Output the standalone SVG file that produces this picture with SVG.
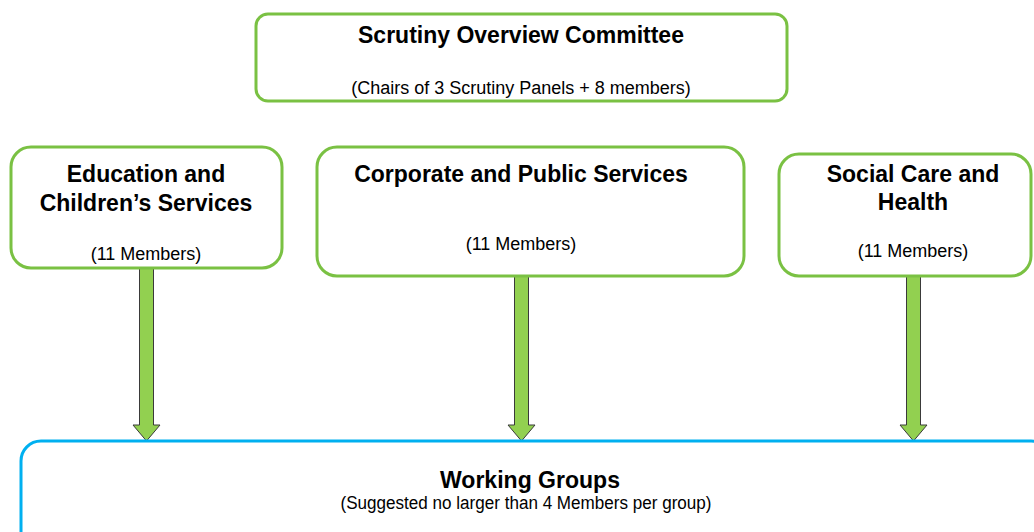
<svg xmlns="http://www.w3.org/2000/svg" width="1034" height="532" viewBox="0 0 1034 532">
  <defs>
    <style>
      .box { fill: #ffffff; stroke: #7ac143; stroke-width: 3; }
      .wg { fill: #ffffff; stroke: #00b0f0; stroke-width: 3; }
      .title { font-family: "Liberation Sans", Arial, sans-serif; font-weight: bold; font-size: 23px; fill: #000000; text-anchor: middle; }
      .sub { font-family: "Liberation Sans", Arial, sans-serif; font-size: 18px; fill: #000000; text-anchor: middle; }
      .arrow { fill: #92d050; stroke: #3a3a3a; stroke-width: 1; }
    </style>
  </defs>
  <rect width="1034" height="532" fill="#ffffff"/>

  <g id="connectors">
    <path class="arrow" d="M139.5,268 H153.5 V425 H160 L146.5,441 L133,425 H139.5 Z"/>
    <path class="arrow" d="M514.5,276 H528.5 V425 H535 L521.5,441 L508,425 H514.5 Z"/>
    <path class="arrow" d="M906.5,276 H920.5 V425 H927 L913.5,441 L900,425 H906.5 Z"/>
  </g>

  <g id="scrutiny-overview">
    <rect class="box" x="256" y="14" width="531" height="87" rx="12"/>
    <text class="title" x="521" y="43" font-size="22">Scrutiny Overview Committee</text>
    <text class="sub" x="521" y="94">(Chairs of 3 Scrutiny Panels + 8 members)</text>
  </g>

  <g id="education">
    <rect class="box" x="11" y="147" width="271" height="121" rx="20"/>
    <text class="title" x="146" y="182">Education and</text>
    <text class="title" x="146" y="211">Children’s Services</text>
    <text class="sub" x="146" y="260">(11 Members)</text>
  </g>

  <g id="corporate">
    <rect class="box" x="317" y="147" width="427" height="129" rx="20"/>
    <text class="title" x="521" y="182">Corporate and Public Services</text>
    <text class="sub" x="521" y="250">(11 Members)</text>
  </g>

  <g id="social-care">
    <rect class="box" x="779" y="154" width="252" height="122" rx="20"/>
    <text class="title" x="913" y="182">Social Care and</text>
    <text class="title" x="913" y="210">Health</text>
    <text class="sub" x="913" y="257">(11 Members)</text>
  </g>

  <g id="working-groups">
    <rect class="wg" x="21" y="441" width="1030" height="110" rx="20"/>
    <text class="title" x="530" y="488" font-size="21" textLength="180" lengthAdjust="spacingAndGlyphs">Working Groups</text>
    <text class="sub" x="526" y="509" font-size="16" textLength="371" lengthAdjust="spacingAndGlyphs">(Suggested no larger than 4 Members per group)</text>
  </g>
</svg>
